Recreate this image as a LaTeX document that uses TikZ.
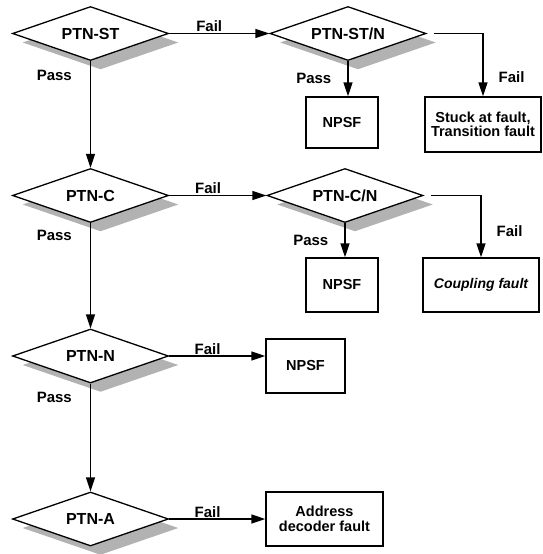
\documentclass[tikz,border=0pt]{standalone}
\usepackage{fontspec}
\setmainfont{Liberation Sans}
\usetikzlibrary{shapes.geometric,shadows,arrows.meta}
\begin{document}
\begin{tikzpicture}[x=1pt,y=-1pt,
  test/.style={diamond, draw, fill=white, line width=1.3pt,
    minimum width=156pt, minimum height=54pt, aspect=2.9, inner sep=0pt,
    font=\bfseries\fontsize{16}{18}\selectfont,
    general shadow={fill=gray!60, shadow xshift=10pt, shadow yshift=-9pt}},
  result/.style={draw, fill=white, line width=1.4pt, inner sep=0pt, align=center,
    font=\bfseries\fontsize{14.5}{14.5}\selectfont},
  flow/.style={line width=1.4pt, -{Triangle[length=14pt,width=9pt]}},
  lbl/.style={inner sep=1pt, font=\bfseries\fontsize{15}{15}\selectfont}]

\useasboundingbox (0,0) rectangle (543,554);

% pattern tests
\node[test] (st)  at (90.5,33.5)  {PTN-ST};
\node[test] (stn) at (348,33.5)   {PTN-ST/N};
\node[test] (c)   at (90.5,195.5) {PTN-C};
\node[test] (cn)  at (345,195.5)  {PTN-C/N};
\node[test] (n)   at (90.5,356)   {PTN-N};
\node[test] (a)   at (90.5,519)   {PTN-A};

% detected fault classes
\node[result, minimum width=72pt, minimum height=51pt] (ns1) at (342,122.5) {NPSF};
\node[result, minimum width=116pt, minimum height=55pt] (sf) at (483,124.5) {Stuck at fault,\\Transition fault};
\node[result, minimum width=72pt, minimum height=54pt] (ns2) at (342,285) {NPSF};
\node[result, minimum width=116pt, minimum height=54pt,
      font=\bfseries\itshape\fontsize{14}{14}\selectfont] (cf) at (481,285) {Coupling fault};
\node[result, minimum width=79pt, minimum height=54pt] (ns3) at (305.5,366) {NPSF};
\node[result, minimum width=117pt, minimum height=54pt] (adf) at (324.5,519) {Address\\decoder fault};

% PTN-ST row
\draw[flow] (st) -- node[lbl, above, pos=0.4] (fl1) {Fail} (stn);
\draw[flow] (st) -- node[lbl, left=17pt, pos=0.13] (ps1) {Pass} (c);
\draw[flow, shorten <=7pt] (stn.east) -| node[lbl, right=14pt, pos=0.85] (fl2) {Fail} (sf.north);
\draw[flow] (stn.south) -- node[lbl, left=15pt, pos=0.5] (ps2) {Pass} (stn.south |- ns1.north);

% PTN-C row
\draw[flow] (c) -- node[lbl, above, pos=0.4] (fl3) {Fail} (cn);
\draw[flow] (c) -- node[lbl, left=17pt, pos=0.12] (ps3) {Pass} (n);
\draw[flow, shorten <=7pt] (cn.east) -| node[lbl, right=14pt, pos=0.79] (fl4) {Fail} (cf.north);
\draw[flow] (cn.south) -- node[lbl, left=15pt, pos=0.5] (ps4) {Pass} (cn.south |- ns2.north);

% PTN-N row
\draw[flow] (n.east) -- node[lbl, above, pos=0.4] (fl5) {Fail} (n.east -| ns3.west);
\draw[flow] (n) -- node[lbl, left=17pt, pos=0.13] (ps5) {Pass} (a);

% PTN-A row
\draw[flow] (a) -- node[lbl, above, pos=0.4] (fl6) {Fail} (adf);

\end{tikzpicture}
\end{document}
